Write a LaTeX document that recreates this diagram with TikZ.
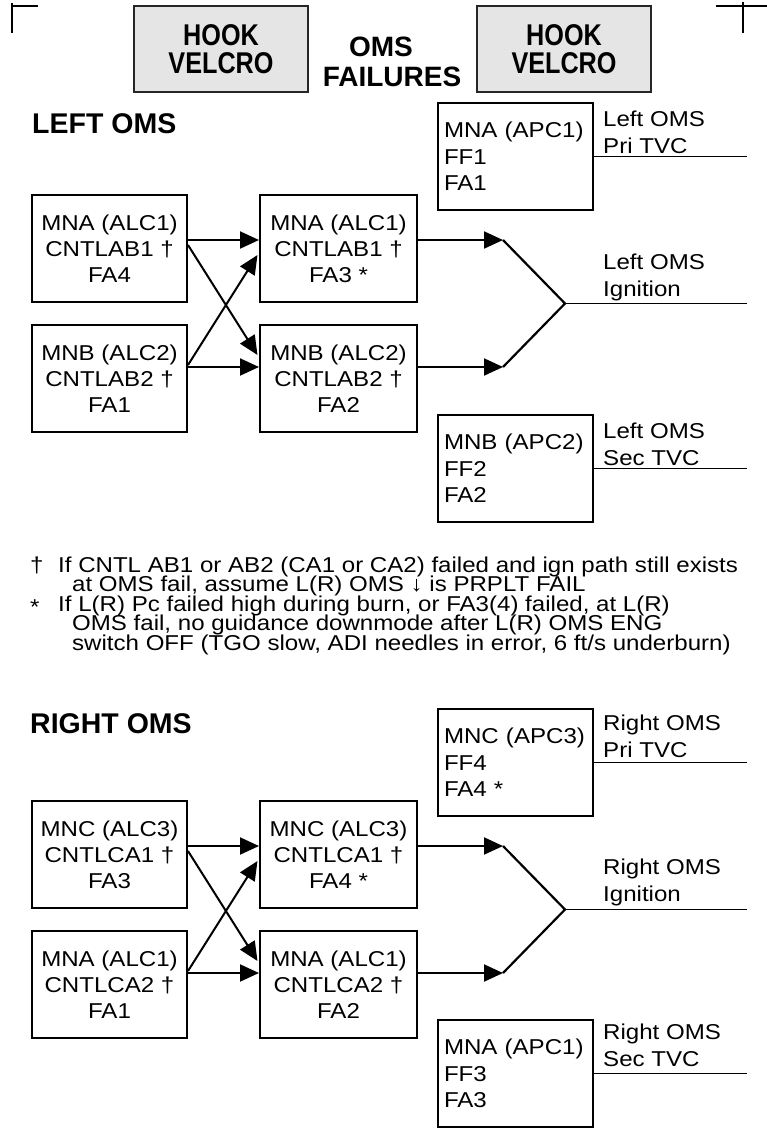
\documentclass[tikz,border=0pt]{standalone}
\usepackage{fontspec}
\setmainfont{Liberation Sans}[FakeStretch=1.12]
\newfontfamily\condf{Liberation Sans}[FakeStretch=0.84]
\newfontfamily\plainf{Liberation Sans}
\usetikzlibrary{arrows.meta}
\begin{document}
\begin{tikzpicture}[x=1pt,y=-1pt,
  cbox/.style={draw, line width=2pt, minimum width=155pt, minimum height=107pt, align=center, inner sep=0pt, font=\fontsize{21.5}{26}\selectfont},
  pbox/.style={draw, line width=1.6pt, minimum height=107pt, text width=143pt, inner xsep=6pt, inner ysep=0pt, align=left, font=\fontsize{21.5}{26.5}\selectfont},
  hookbox/.style={draw=black!85, fill=black!10, line width=2pt, minimum width=174pt, minimum height=86pt, align=center, inner sep=0pt, font=\condf\bfseries\fontsize{30}{28}\selectfont},
  headtitle/.style={font=\plainf\bfseries\fontsize{28}{30}\selectfont, inner sep=0pt},
  sectitle/.style={font=\plainf\bfseries\fontsize{28.5}{30}\selectfont, inner sep=0pt, anchor=base west},
  lab/.style={font=\fontsize{21.5}{27}\selectfont, inner sep=0pt, anchor=base west, align=left},
  note/.style={font=\fontsize{21.5}{20}\selectfont, inner sep=0pt, anchor=base west},
  arr/.style={line width=2pt, -{Triangle[length=19pt,width=17pt]}},
  seg/.style={line width=2.2pt},
  outl/.style={line width=1.6pt},
  cropline/.style={line width=1.5pt}
]
\useasboundingbox (0,0) rectangle (767,1130);

% crop marks
\coordinate (c1) at (12,3); \coordinate (c2) at (12,33);
\coordinate (c3) at (12,6); \coordinate (c4) at (38,6);
\coordinate (c5) at (716,6); \coordinate (c6) at (767,6);
\coordinate (c7) at (743,2); \coordinate (c8) at (743,33);
\draw[cropline] (c1) -- (c2) (c3) -- (c4) (c5) -- (c6) (c7) -- (c8);

% header
\node[hookbox] (hk1) at (221,49) {HOOK\\VELCRO};
\node[hookbox] (hk2) at (564,49) {HOOK\\VELCRO};
\node[headtitle, align=center] (omsf) at (392,62) {OMS\hspace*{22pt}\\FAILURES};

% ================= LEFT OMS =================
\node[sectitle] (lt) at (32,133) {LEFT OMS};

\node[cbox] (L1) at (109.5,248.5) {MNA (ALC1)\\CNTLAB1 †\\FA4};
\node[cbox] (L2) at (109.5,378.5) {MNB (ALC2)\\CNTLAB2 †\\FA1};
\node[cbox, minimum width=157pt] (M1) at (338.5,248.5) {MNA (ALC1)\\CNTLAB1 †\\FA3 *};
\node[cbox, minimum width=157pt] (M2) at (338.5,378.5) {MNB (ALC2)\\CNTLAB2 †\\FA2};
\node[pbox] (P1) at (515.5,156.5) {MNA (APC1)\\FF1\\FA1};
\node[pbox] (P2) at (515.5,468.5) {MNB (APC2)\\FF2\\FA2};

\draw[arr] ([yshift=8.5pt]L1.east) -- ([yshift=8.5pt]M1.west);
\draw[arr] ([yshift=11.5pt]L2.east) -- ([yshift=11.5pt]M2.west);
\draw[arr] ([yshift=3.5pt]L1.east) -- ([xshift=-1.5pt,yshift=23.5pt]M2.west);
\draw[arr] ([yshift=13.5pt]L2.east) -- ([xshift=-1.5pt,yshift=-6.5pt]M1.west);

\coordinate (ta1) at (503,240);
\coordinate (tb1) at (503,367);
\coordinate (J1) at (565,303.5);
\coordinate (oJ1) at (747,303.5);
\coordinate (oP1) at (747,156.5);
\coordinate (oP2) at (747,468.5);
\draw[arr] ([yshift=8.5pt]M1.east) -- (ta1);
\draw[arr] ([yshift=11.5pt]M2.east) -- (tb1);
\draw[seg] (ta1) -- (J1) -- (tb1);
\draw[outl] (J1) -- (oJ1);
\draw[outl] (P1.east) -- (oP1);
\draw[outl] (P2.east) -- (oP2);

\node[lab] (lp1) at (603,153) {Left OMS\\Pri TVC};
\node[lab] (lj1) at (603,296) {Left OMS\\Ignition};
\node[lab] (lp2) at (603,465) {Left OMS\\Sec TVC};

% ================= footnotes =================
\node[note] (d1) at (30,572) {†};
\node[note] (n1) at (58,572) {If CNTL AB1 or AB2 (CA1 or CA2) failed and ign path still exists};
\node[note] (n2) at (72,591.5) {at OMS fail, assume L(R) OMS ↓ is PRPLT FAIL};
\node[note] (d2) at (30,614) {*};
\node[note] (n3) at (58,611) {If L(R) Pc failed high during burn, or FA3(4) failed, at L(R)};
\node[note] (n4) at (72,630.5) {OMS fail, no guidance downmode after L(R) OMS ENG};
\node[note] (n5) at (72,650) {switch OFF (TGO slow, ADI needles in error, 6 ft/s underburn)};

% ================= RIGHT OMS =================
\node[sectitle] (rt) at (30,733) {RIGHT OMS};

\node[cbox] (R1) at (109.5,854.5) {MNC (ALC3)\\CNTLCA1 †\\FA3};
\node[cbox] (R2) at (109.5,984.5) {MNA (ALC1)\\CNTLCA2 †\\FA1};
\node[cbox, minimum width=157pt] (RM1) at (338.5,854.5) {MNC (ALC3)\\CNTLCA1 †\\FA4 *};
\node[cbox, minimum width=157pt] (RM2) at (338.5,984.5) {MNA (ALC1)\\CNTLCA2 †\\FA2};
\node[pbox] (P3) at (515.5,762.5) {MNC (APC3)\\FF4\\FA4 *};
\node[pbox] (P4) at (515.5,1073.5) {MNA (APC1)\\FF3\\FA3};

\draw[arr] ([yshift=8.5pt]R1.east) -- ([yshift=8.5pt]RM1.west);
\draw[arr] ([yshift=11.5pt]R2.east) -- ([yshift=11.5pt]RM2.west);
\draw[arr] ([yshift=3.5pt]R1.east) -- ([xshift=-1.5pt,yshift=23.5pt]RM2.west);
\draw[arr] ([yshift=13.5pt]R2.east) -- ([xshift=-1.5pt,yshift=-6.5pt]RM1.west);

\coordinate (ta2) at (503,846);
\coordinate (tb2) at (503,973);
\coordinate (J2) at (565,909.5);
\coordinate (oJ2) at (747,909.5);
\coordinate (oP3) at (747,762.5);
\coordinate (oP4) at (747,1073.5);
\draw[arr] ([yshift=8.5pt]RM1.east) -- (ta2);
\draw[arr] ([yshift=11.5pt]RM2.east) -- (tb2);
\draw[seg] (ta2) -- (J2) -- (tb2);
\draw[outl] (J2) -- (oJ2);
\draw[outl] (P3.east) -- (oP3);
\draw[outl] (P4.east) -- (oP4);

\node[lab] (rp1) at (603,757) {Right OMS\\Pri TVC};
\node[lab] (rj1) at (603,901) {Right OMS\\Ignition};
\node[lab] (rp2) at (603,1066) {Right OMS\\Sec TVC};
\end{tikzpicture}
\end{document}
